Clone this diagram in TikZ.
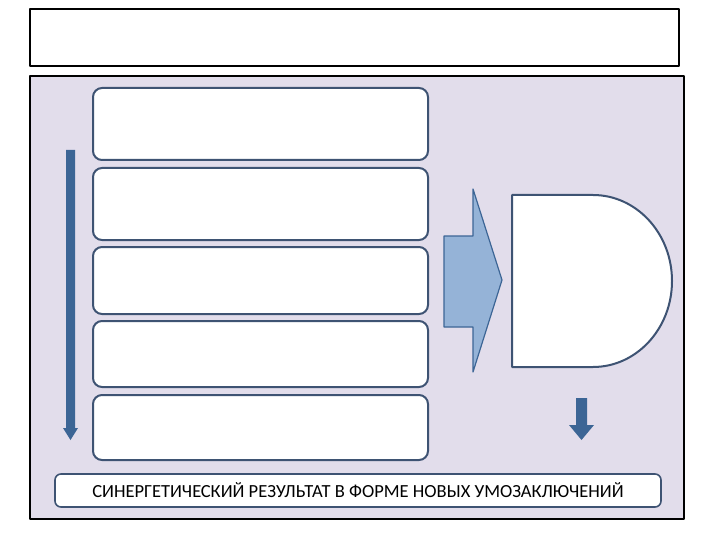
\documentclass[tikz,border=0pt]{standalone}
\usepackage{fontspec}
\setmainfont{Carlito}
\definecolor{nen}{HTML}{E2DDEB}
\definecolor{vien}{HTML}{3E5373}
\definecolor{xanh}{HTML}{3C6595}
\definecolor{mui}{HTML}{95B3D7}
\begin{document}
\begin{tikzpicture}[x=1pt,y=-1pt,line join=round,
o/.style={draw=vien,line width=2,fill=white,rounded corners=9,minimum width=335,inner sep=0},
ketqua/.style={draw=vien,line width=1.6,fill=white,rounded corners=6,minimum width=606,minimum height=33,inner sep=0,font=\fontsize{18.5}{20}\selectfont}]
\useasboundingbox (0,0) rectangle (720,540);
\def\tx{260.5} % tâm các ô
\draw[line width=2,fill=white] (30,9) rectangle (679,66); % tiêu đề
\draw[line width=2,fill=nen] (30,76) rectangle (684,519); % nền
\path 
(\tx,124) node[o,minimum height=72] (k1) {}
(\tx,204) node[o,minimum height=72] (k2) {}
(\tx,280.5) node[o,minimum height=67] (k3) {}
(\tx,354) node[o,minimum height=66] (k4) {}
(\tx,427.5) node[o,minimum height=65] (k5) {}
(358,490.5) node[ketqua] (kq) {СИНЕРГЕТИЧЕСКИЙ РЕЗУЛЬТАТ В ФОРМЕ НОВЫХ УМОЗАКЛЮЧЕНИЙ};
% mũi tên dọc
\fill[xanh] (66,150) -- (75,150) -- (75,428) -- (78,428) -- (70.5,440) -- (63,428) -- (66,428) -- cycle;
% mũi tên lớn
\draw[line width=1.2,draw=xanh,fill=mui] (444,236) -- (473,236) -- (473,189) -- (502,280) -- (473,372) -- (473,327) -- (444,327) -- cycle;
% hình chữ D
\draw[line width=2,draw=vien,fill=white] (512,195) -- (593,195) arc[start angle=-90,end angle=90,x radius=79,y radius=86] -- (512,367) -- cycle;
% mũi tên nhỏ
\fill[xanh] (576,398) -- (587,398) -- (587,425) -- (594,425) -- (581.5,440) -- (569,425) -- (576,425) -- cycle;
\end{tikzpicture}
\end{document}
